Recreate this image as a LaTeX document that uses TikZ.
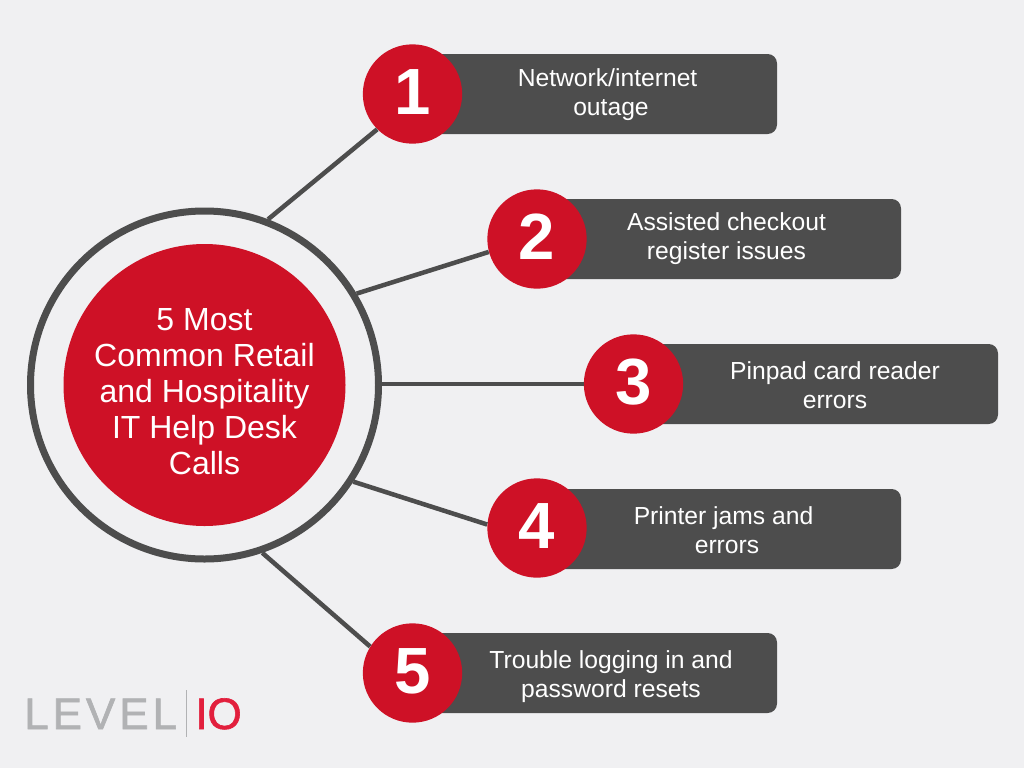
\documentclass[tikz,border=0pt]{standalone}
\usepackage{fontspec}
\setmainfont{Liberation Sans}
\newfontfamily\logofont[LetterSpace=9,FakeBold=1.4]{Liberation Sans}
\newfontfamily\logoiofont[FakeBold=1.4]{Liberation Sans}
\usetikzlibrary{positioning}
\definecolor{pagebg}{HTML}{F0F0F2}
\definecolor{brandred}{HTML}{CE1126}
\definecolor{bardark}{HTML}{4D4D4D}
\definecolor{logogray}{HTML}{B1B2B4}
\definecolor{logored}{HTML}{E21F3D}
\tikzset{
  hub/.style    ={circle, fill=brandred, minimum size=211.5pt, inner sep=0pt},
  hubtext/.style={text=white, inner sep=0pt, align=center, font=\fontsize{24}{27}\selectfont},
  ring/.style   ={draw=bardark, circle, minimum size=261pt, inner sep=0pt, line width=5.25pt},
  badge/.style  ={circle, fill=brandred, text=white, minimum size=74.5pt, inner sep=0pt, text depth=3pt, font=\fontsize{49}{49}\bfseries\selectfont},
  bar/.style    ={fill=bardark, rounded corners=7pt, minimum height=60pt, inner sep=0pt},
  bartext/.style={text=white, inner sep=0pt, align=center, font=\fontsize{18.5}{21.75}\selectfont},
  spoke/.style  ={draw=bardark, line width=3.4pt},
}
\begin{document}
\begin{tikzpicture}[x=0.75pt, y=-0.75pt]
  \fill[pagebg] (0,0) rectangle (1024,768);
  \useasboundingbox (0,0) rectangle (1024,768);
  % centre
  \node[ring] (ring) at (204.5,385) {};
  \node[hub] (hub) at (204.5,385) {};
  \node[hubtext] (hubtext) at (204.5,392) {5 Most\\Common Retail\\and Hospitality\\IT Help Desk\\Calls};
  % bars
  \node[bar, minimum width=273pt] (bar1) at (595,94) {};
  \node[bar, minimum width=273pt] (bar2) at (719,239) {};
  \node[bar, minimum width=273pt] (bar3) at (816,384) {};
  \node[bar, minimum width=273pt] (bar4) at (719,529) {};
  \node[bar, minimum width=273pt] (bar5) at (595,673) {};
  % texts
  \node[bartext] (text1) at (611,95) {Network/internet\kern0.28em\\outage};
  \node[bartext] (text2) at (726.5,239) {Assisted checkout\\register issues};
  \node[bartext] (text3) at (835,385) {Pinpad card reader\\errors};
  \node[bartext] (text4) at (727,530) {Printer jams and\kern0.28em\\errors};
  \node[bartext] (text5) at (611,677) {Trouble logging in and\\password resets};
  % badges
  \node[badge] (one) at (412.5,94) {1};
  \node[badge] (two) at (537,239) {2};
  \node[badge] (three) at (633.5,384) {3};
  \node[badge] (four) at (537,528) {4};
  \node[badge] (five) at (412.5,673) {5};
  % spokes
  \draw[spoke] (ring.69) -- (one.225);
  \draw[spoke] (ring.31) -- (two.195);
  \draw[spoke] (ring.east |- three.west) -- (three.west);
  \draw[spoke] (ring.-33) -- (four.176);
  \draw[spoke] (ring.-71) -- (five.148);
  % logo
  \node[anchor=base west, inner sep=0pt, text=logogray, font=\fontsize{33}{33}\logofont] (level) at (24,729) {LEVEL};
  \node[anchor=base west, inner sep=0pt, text=logored, font=\fontsize{33}{33}\logoiofont] (io) at (195,729) {IO};
  \coordinate (divtop) at (186,690);
  \coordinate (divbot) at (186,737);
  \draw[logogray, line width=0.75pt] (divtop) -- (divbot);
\end{tikzpicture}
\end{document}
